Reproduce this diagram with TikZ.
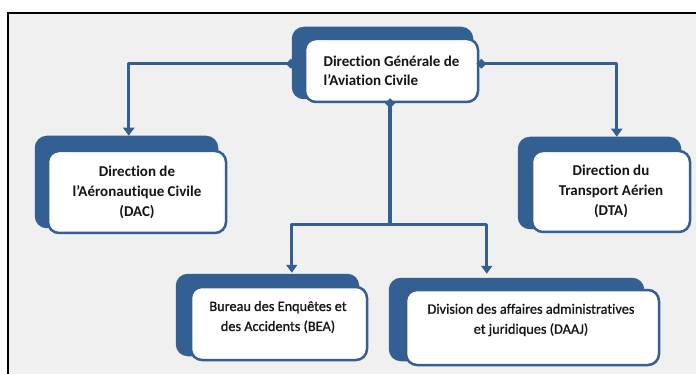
\documentclass[tikz,border=0pt]{standalone}
\usepackage{fontspec}
\setmainfont{Carlito}[Ligatures={TeX,NoCommon}]
\newfontfamily\semibfont{Carlito}[Ligatures={TeX,NoCommon},FakeBold=1.0]
\usetikzlibrary{arrows.meta,calc}
\definecolor{myblue}{RGB}{52,95,146}
\definecolor{bggray}{RGB}{240,240,240}
\definecolor{txt}{RGB}{20,20,20}
\pgfdeclarelayer{bglayer}
\pgfdeclarelayer{backlayer}
\pgfsetlayers{bglayer,backlayer,main}
\begin{document}
\begin{tikzpicture}[x=1pt,y=-1pt,
  card/.style={draw=myblue, line width=2.5pt, fill=white, rounded corners=11pt, inner sep=0pt, align=center, text=txt},
  boldtext/.style={font=\bfseries\fontsize{15}{20}\selectfont},
  lighttext/.style={align=center, text=txt, inner sep=0pt, font=\semibfont\fontsize{14.3}{20}\selectfont},
  backshape/.style={fill=myblue, rounded corners=12pt},
  conn/.style={draw=myblue, line width=3.4pt, line join=round},
  tri/.style={-{Triangle[length=8pt,width=11pt]}},
  dia/.style={{Diamond[length=10pt,width=10pt]}-, shorten <=-5pt},
  diatri/.style={{Diamond[length=10pt,width=10pt]}-{Triangle[length=8pt,width=11pt]}, shorten <=-5pt}]
\useasboundingbox (0,0) rectangle (696,374);
\begin{pgfonlayer}{bglayer}
\fill[white] (0,0) rectangle (696,374);
\draw[line width=2pt, fill=bggray] (8,13.5) rectangle (720,400);
\end{pgfonlayer}

\node[card, minimum width=173pt, minimum height=63pt, align=left, font=\bfseries\fontsize{15}{19}\selectfont] (dgac) at (391.5,70.5) {Direction Générale de\\l'Aviation Civile};
\node[card, boldtext, minimum width=178pt, minimum height=82pt] (dac) at (137,192) {Direction de\\l'Aéronautique Civile\\(DAC)};
\node[card, boldtext, minimum width=158pt, minimum height=81pt] (dta) at (611,191.5) {Direction du\\Transport Aérien\\(DTA)};
\node[card, minimum width=176pt, minimum height=73pt] (bea) at (279,323.5) {};
\node[lighttext] (beatext) at (278,317) {Bureau des Enquêtes et\\des Accidents (BEA)};
\node[card, minimum width=253pt, minimum height=75pt] (daaj) at (532.5,327.5) {};
\node[lighttext] (daajtext) at (531,320) {Division des affaires administratives\\et juridiques (DAAJ)};

\begin{pgfonlayer}{backlayer}
\fill[backshape] ($(dgac.north west)+(-12,-11)$) rectangle ($(dgac.south east)+(-6,-4)$);
\fill[backshape] ($(dac.north west)+(-12,-14)$) rectangle ($(dac.south east)+(-9,-6)$);
\fill[backshape] ($(bea.north west)+(-14,-12)$) rectangle ($(bea.south east)+(-9,-5)$);
\fill[backshape] ($(daaj.north west)+(-16,-11)$) rectangle ($(daaj.south east)+(-16,-5)$);
\fill[backshape] ($(dta.north west)+(-13,-13)$) rectangle ($(dta.south east)+(-10,-4)$);
\end{pgfonlayer}

\coordinate (dacT) at ($(dac.north west)+(82,-14)$);
\coordinate (dtaT) at ($(dta.north west)+(86,-13)$);
\coordinate (beaT) at ($(bea.north west)+(102,-13)$);
\coordinate (daajT) at ($(daaj.north west)+(82,-15)$);
\coordinate (jn) at ($(dgac.south)+(-1.5,121)$);

\draw[conn, diatri] ($(dgac.north west)+(-13,26)$) -| (dacT);
\draw[conn, diatri] ($(dgac.north east)+(2,26)$) -| (dtaT);
\draw[conn, dia] ($(dgac.south)+(-1.5,0)$) -- (jn);
\draw[conn, tri] (jn) -| (beaT);
\draw[conn, tri] (jn) -| (daajT);
\end{tikzpicture}
\end{document}
